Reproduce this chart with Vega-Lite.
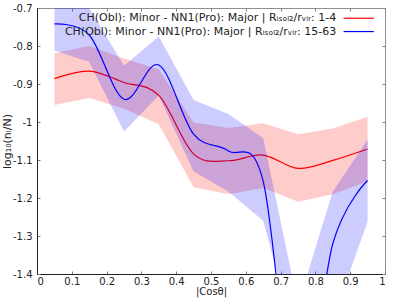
{
  "$schema": "https://vega.github.io/schema/vega-lite/v6.json",
  "width": 348,
  "height": 266,
  "autosize": {"type": "none"},
  "padding": {"left": 37, "top": 8, "right": 14, "bottom": 25},
  "config": {
    "view": {"stroke": "#909090", "strokeWidth": 1},
    "font": "DejaVu Sans",
    "axis": {
      "grid": false,
      "labelFont": "DejaVu Sans", "labelFontSize": 10, "labelColor": "#222222",
      "titleFont": "DejaVu Sans", "titleFontSize": 11, "titleFontWeight": "normal", "titleColor": "#222222",
      "tickColor": "#808080", "tickSize": -3
    }
  },
  "datasets": {
    "main": [
      {"x": 0.05, "series": "red", "mean": -0.886, "lo": -0.955, "hi": -0.819},
      {"x": 0.15, "series": "red", "mean": -0.866, "lo": -0.937, "hi": -0.800},
      {"x": 0.25, "series": "red", "mean": -0.896, "lo": -0.965, "hi": -0.833},
      {"x": 0.35, "series": "red", "mean": -0.930, "lo": -1.006, "hi": -0.862},
      {"x": 0.45, "series": "red", "mean": -1.084, "lo": -1.172, "hi": -1.001},
      {"x": 0.55, "series": "red", "mean": -1.102, "lo": -1.190, "hi": -1.016},
      {"x": 0.65, "series": "red", "mean": -1.087, "lo": -1.174, "hi": -1.003},
      {"x": 0.75, "series": "red", "mean": -1.122, "lo": -1.210, "hi": -1.032},
      {"x": 0.85, "series": "red", "mean": -1.101, "lo": -1.190, "hi": -1.017},
      {"x": 0.95, "series": "red", "mean": -1.071, "lo": -1.156, "hi": -0.986},
      {"x": 0.05, "series": "blue", "mean": -0.742, "lo": -0.812, "hi": -0.670},
      {"x": 0.15, "series": "blue", "mean": -0.771, "lo": -0.842, "hi": -0.700},
      {"x": 0.25, "series": "blue", "mean": -0.940, "lo": -1.025, "hi": -0.852},
      {"x": 0.35, "series": "blue", "mean": -0.850, "lo": -0.930, "hi": -0.775},
      {"x": 0.45, "series": "blue", "mean": -1.032, "lo": -1.130, "hi": -0.942},
      {"x": 0.55, "series": "blue", "mean": -1.076, "lo": -1.183, "hi": -0.979},
      {"x": 0.65, "series": "blue", "mean": -1.156, "lo": -1.260, "hi": -1.043},
      {"x": 0.75, "series": "blue", "mean": -1.800, "lo": -1.600, "hi": -1.480},
      {"x": 0.85, "series": "blue", "mean": -1.320, "lo": -1.520, "hi": -1.183},
      {"x": 0.95, "series": "blue", "mean": -1.154, "lo": -1.262, "hi": -1.046}
    ]
  },
  "layer": [
    {
      "data": {"name": "main"},
      "transform": [{"filter": "datum.series === 'red'"}],
      "mark": {"type": "area", "color": "#ff0000", "opacity": 0.2, "clip": true},
      "encoding": {
        "x": {"field": "x", "type": "quantitative", "scale": {"domain": [0, 1], "nice": false},
          "axis": {"orient": "bottom", "title": "|Cosθ|", "values": [0,0.1,0.2,0.3,0.4,0.5,0.6,0.7,0.8,0.9,1], "labelPadding": 5, "titlePadding": 0, "titleFontSize": 10,
            "domain": true, "domainColor": "#222222",
            "labelExpr": "replace(format(datum.value, '.1~f'), '\u2212', '-')"}},
        "y": {"field": "lo", "type": "quantitative", "scale": {"domain": [-1.4, -0.7], "nice": false, "zero": false},
          "axis": {"orient": "left", "title": "log₁₀(nᵢ/N)", "values": [-1.4,-1.3,-1.2,-1.1,-1,-0.9,-0.8,-0.7], "labelPadding": 8, "titlePadding": 0,
            "domain": true, "domainColor": "#222222",
            "labelExpr": "replace(format(datum.value, '.1~f'), '\u2212', '-')"}},
        "y2": {"field": "hi"}
      }
    },
    {
      "data": {"name": "main"},
      "transform": [{"filter": "datum.series === 'red'"}],
      "mark": {"type": "line", "color": "#ff0000", "strokeWidth": 1.2, "interpolate": "cardinal", "tension": 0, "clip": true},
      "encoding": {
        "x": {"field": "x", "type": "quantitative", "scale": {"domain": [0, 1], "nice": false},
          "axis": {"orient": "top", "title": null, "labels": false, "domain": false, "values": [0,0.1,0.2,0.3,0.4,0.5,0.6,0.7,0.8,0.9,1]}},
        "y": {"field": "mean", "type": "quantitative", "scale": {"domain": [-1.4, -0.7], "nice": false, "zero": false},
          "axis": {"orient": "right", "title": null, "labels": false, "domain": false, "values": [-1.4,-1.3,-1.2,-1.1,-1,-0.9,-0.8,-0.7]}}
      }
    },
    {
      "data": {"name": "main"},
      "transform": [{"filter": "datum.series === 'blue'"}],
      "mark": {"type": "area", "color": "#0000ff", "opacity": 0.2, "clip": true},
      "encoding": {
        "x": {"field": "x", "type": "quantitative", "axis": null},
        "y": {"field": "lo", "type": "quantitative", "axis": null},
        "y2": {"field": "hi"}
      }
    },
    {
      "data": {"name": "main"},
      "transform": [{"filter": "datum.series === 'blue'"}],
      "mark": {"type": "line", "color": "#0000ff", "strokeWidth": 1.2, "interpolate": "cardinal", "tension": 0, "clip": true},
      "encoding": {
        "x": {"field": "x", "type": "quantitative", "axis": null},
        "y": {"field": "mean", "type": "quantitative", "axis": null}
      }
    },
    {
      "data": {"values": [{}]},
      "mark": {"type": "text", "align": "right", "baseline": "middle", "fontSize": 11, "font": "DejaVu Sans", "color": "#222222"},
      "encoding": {
        "x": {"datum": 0.86, "type": "quantitative", "axis": null},
        "y": {"datum": -0.727, "type": "quantitative", "axis": null},
        "text": {"value": "CH(Obl): Minor - NN1(Pro): Major | Rᵢₛₒₗ₂/rᵥᵢᵣ: 1-4"}
      }
    },
    {
      "data": {"values": [{}]},
      "mark": {"type": "text", "align": "right", "baseline": "middle", "fontSize": 11, "font": "DejaVu Sans", "color": "#222222"},
      "encoding": {
        "x": {"datum": 0.86, "type": "quantitative", "axis": null},
        "y": {"datum": -0.762, "type": "quantitative", "axis": null},
        "text": {"value": "CH(Obl): Minor - NN1(Pro): Major | Rᵢₛₒₗ₂/rᵥᵢᵣ: 15-63"}
      }
    },
    {
      "data": {"values": [{}]},
      "mark": {"type": "rule", "color": "#ff0000", "strokeWidth": 1.2},
      "encoding": {
        "x": {"datum": 0.881, "type": "quantitative", "axis": null},
        "x2": {"datum": 0.968},
        "y": {"datum": -0.727, "type": "quantitative", "axis": null}
      }
    },
    {
      "data": {"values": [{}]},
      "mark": {"type": "rule", "color": "#0000ff", "strokeWidth": 1.2},
      "encoding": {
        "x": {"datum": 0.881, "type": "quantitative", "axis": null},
        "x2": {"datum": 0.968},
        "y": {"datum": -0.762, "type": "quantitative", "axis": null}
      }
    }
  ]
}
